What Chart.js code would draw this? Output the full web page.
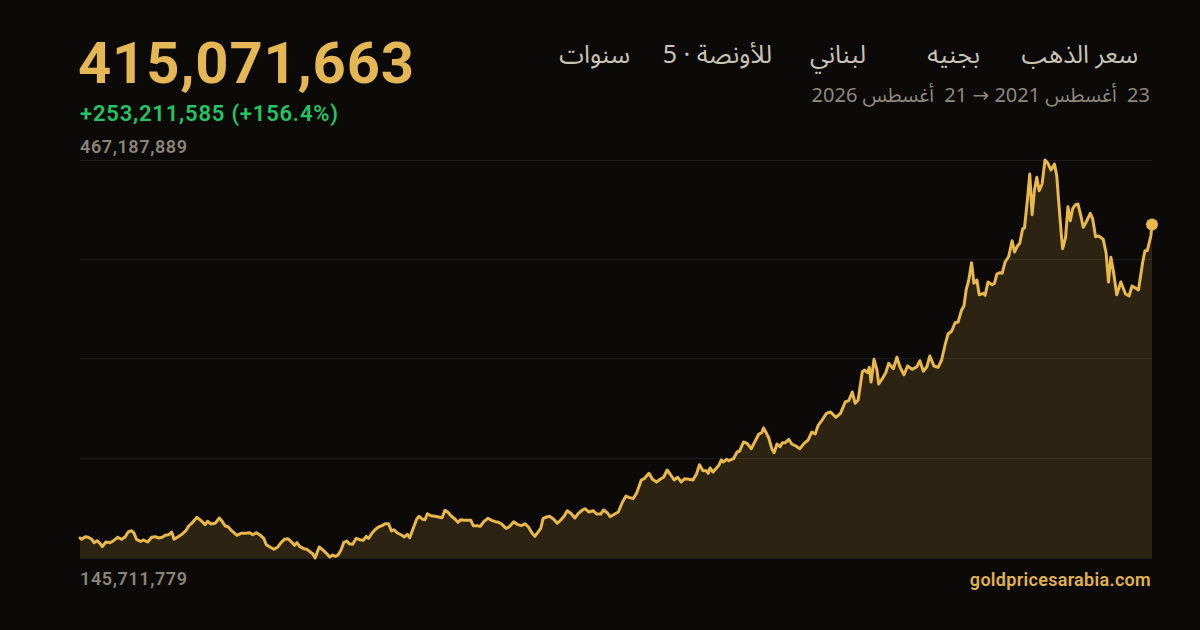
<!DOCTYPE html>
<html lang="ar">
<head>
<meta charset="utf-8">
<script src="https://cdn.jsdelivr.net/npm/chart.js@4"></script>
<style>
  html,body{margin:0;padding:0;background:#0b0a09;}
  body{width:1200px;height:630px;position:relative;overflow:hidden;font-family:"Roboto","Noto Sans",sans-serif;}
  .big{position:absolute;left:78px;top:28px;font-size:58px;font-weight:700;color:#e4b654;letter-spacing:0.8px;line-height:70px;}
  .chg{position:absolute;left:80px;top:100px;font-size:22px;font-weight:600;color:#25c463;line-height:28px;letter-spacing:0.8px;}
  .lbl{position:absolute;left:80px;font-size:18px;font-weight:600;color:#8a8477;line-height:20px;letter-spacing:0.6px;}
  .title{position:absolute;top:38px;font-size:25px;color:#c9c3b4;line-height:34px;direction:rtl;font-family:"Noto Sans Arabic","Noto Sans","DejaVu Sans",sans-serif;white-space:nowrap;}
  .date{position:absolute;right:50px;top:83px;font-size:20px;color:#8e887b;direction:rtl;line-height:26px;font-family:"Noto Sans Arabic","Noto Sans","DejaVu Sans",sans-serif;white-space:pre;}
  .site{position:absolute;right:49px;top:569px;font-size:18px;font-weight:600;color:#e0b24e;line-height:22px;letter-spacing:0.3px;}
  #wrap{position:absolute;left:70px;top:150px;width:1092px;height:418px;}
</style>
</head>
<body>
<div class="big" id="big"></div>
<div class="chg" id="chg"></div>
<div class="lbl" id="maxLbl" style="top:137px;"></div>
<div class="lbl" id="minLbl" style="top:569px;"></div>
<div class="title" style="right:62px;">سعر الذهب</div>
<div class="title" style="right:220px;">بجنيه</div>
<div class="title" style="right:334px;">لبناني</div>
<div class="title" style="right:428px;">للأونصة · 5</div>
<div class="title" style="right:570px;">سنوات</div>
<div class="date" id="date"></div>
<div class="site">goldpricesarabia.com</div>
<div id="wrap"><canvas id="c" width="1092" height="418"></canvas></div>
<script>
// Days since 23 Aug 2021 (start) — 5-year range ending 21 Aug 2026
const startLabel = "23  أغسطس 2021";
const endLabel = "21  أغسطس 2026";
const totalDays = 1824;
const days = [0,3,9,14,20,24,29,34,38,44,51,57,64,71,77,82,88,92,96,103,108,115,122,128,134,140,145,151,156,160,167,174,180,185,191,199,206,213,217,223,230,237,241,247,252,258,267,274,282,289,294,300,307,313,317,324,330,336,342,348,354,361,365,369,374,381,386,
391,396,400,407,414,420,425,430,434,439,444,449,454,458,464,470,476,482,487,491,497,502,508,514,519,525,530,534,540,547,552,557,561,567,573,577,582,587,591,597,604,610,616,621,626,632,638,643,648,653,659,665,669,675,681,687,694,700,707,712,718,725,730,738,744,751,757,763,769,774,779,784,788,794,799,
806,812,818,824,829,835,842,848,855,859,866,873,879,886,891,897,902,910,916,923,929,934,941,947,955,960,968,974,981,987,993,999,1004,1011,1017,1023,1029,1036,1043,1049,1054,1060,1066,1069,1072,1077,1083,1087,1091,1095,1100,1104,1112,1118,1122,1129,1135,1142,1148,1155,1160,1163,1168,1172,1177,1181,1186,1191,1195,1200,
1206,1211,1218,1225,1232,1239,1245,1251,1256,1262,1270,1277,1286,1294,1302,1308,1314,1319,1324,1331,1335,1340,1343,1346,1351,1356,1359,1365,1371,1376,1384,1390,1395,1402,1408,1416,1424,1429,1435,1441,1446,1453,1460,1466,1472,1477,1483,1489,1494,1500,1504,1508,1512,1517,1521,1526,1530,1537,1540,1545,1552,1556,1560,1565,
1569,1574,1580,1586,1590,1595,1599,1604,1607,1612,1616,1620,1624,1628,1632,1637,1642,1647,1652,1658,1662,1665,1670,1672,1677,1681,1685,1689,1694,1698,1703,1707,1712,1719,1723,1728,1733,1741,1746,1750,1754,1758,1764,1771,1775,1779,1785,1790,1796,1801,1808,1812,1816,1822,1824];
// Price in millions of Lebanese pounds per ounce
const prices = [161.86,160.81,162.91,162.43,160.81,158.07,159.68,157.58,154.84,158.63,158.07,159.68,162.43,160.81,162.91,166.71,167.76,165.66,160.81,159.20,160.25,158.63,162.43,162.91,161.86,162.43,164.04,164.53,166.71,160.81,162.91,165.09,167.76,171.56,174.22,178.58,175.84,172.61,175.35,173.17,173.74,178.02,175.84,171.56,170.99,167.76,164.04,165.66,165.66,166.14,164.53,166.14,164.04,161.30,156.45,154.35,152.74,154.35,158.07,160.81,161.30,158.07,155.97,158.07,154.84,153.22,152.74,
150.80,149.18,145.711779,154.59,151.93,149.18,146.52,148.13,147.08,148.13,151.93,158.39,159.44,157.26,156.78,161.62,160.49,160.01,163.24,161.62,165.90,168.57,170.75,171.80,173.41,173.41,167.52,168.57,165.90,164.29,162.67,164.85,162.11,169.70,177.21,179.39,177.21,176.64,181.49,179.88,179.39,178.83,178.26,184.24,182.62,179.39,177.21,174.54,176.64,176.16,176.16,176.16,171.80,171.80,171.31,175.03,177.78,176.16,175.03,174.54,172.93,169.70,170.75,175.03,172.93,171.80,173.41,170.75,165.90,163.24,166.47,169.70,177.78,178.83,179.39,
176.97,173.74,176.40,179.63,183.91,181.81,178.02,181.81,184.48,185.53,182.86,183.91,181.25,181.25,184.48,182.30,179.07,181.25,182.86,190.94,195.79,194.74,193.61,197.97,208.71,209.76,214.12,209.28,207.10,209.28,210.89,216.79,213.56,208.71,210.89,207.10,209.76,209.28,208.71,213.56,221.07,216.22,216.22,214.12,218.40,215.17,218.40,220.58,224.86,223.25,225.43,224.30,225.91,231.33,231.89,239.40,238.35,233.99,239.40,245.86,246.91,250.71,246.43,242.63,233.99,230.76,237.79,235.61,238.84,238.84,
241.58,237.79,236.17,233.99,238.35,241.02,247.48,245.86,252.89,256.61,262.58,263.63,259.35,262.58,271.71,272.76,279.79,270.66,273.33,295.94,297.56,295.38,299.74,287.87,306.20,297.56,286.25,290.53,295.38,302.97,298.61,307.82,300.22,293.76,300.79,298.12,300.22,305.07,296.51,300.22,308.87,300.79,299.74,305.63,317.99,326.63,328.82,335.76,336.33,346.02,349.25,362.74,369.69,384.22,367.59,370.25,358.38,359.51,357.89,368.64,366.45,367.59,375.10,376.15,
375.66,384.79,389.07,401.99,392.87,397.71,399.89,411.69,412.25,434.87,455.87,422.99,442.94,453.20,442.38,447.79,467.187889,464.51,459.10,463.94,454.25,434.87,405.22,395.53,404.74,429.46,418.15,427.84,431.07,431.64,421.94,412.82,417.10,424.12,419.76,405.22,405.79,403.12,391.82,368.64,388.59,378.33,358.38,368.64,363.79,358.94,357.33,365.40,363.79,362.17,384.22,393.92,393.92,405.79,415.071663];
const yMin = 145.711779, yMax = 467.187889;

const fmt = v => Math.round(v*1e6).toLocaleString('en-US');
const last = prices[prices.length-1];
const change = 253.211585; // as shown
document.getElementById('big').textContent = fmt(last);
document.getElementById('chg').textContent = '+' + fmt(change) + ' (+156.4%)';
document.getElementById('maxLbl').textContent = fmt(yMax);
document.getElementById('minLbl').textContent = fmt(yMin);
document.getElementById('date').textContent = startLabel + ' → ' + endLabel;

const pts = days.map((d,i)=>({x:d, y:prices[i]}));
new Chart(document.getElementById('c'), {
  type:'line',
  data:{datasets:[{
    data:pts,
    clip:false,
    borderColor:'#e8b84b',
    borderWidth:3,
    borderJoinStyle:'round',
    borderCapStyle:'round',
    backgroundColor:'rgba(232,184,75,0.15)',
    fill:'start',
    tension:0,
    pointRadius:c=>c.dataIndex===pts.length-1?6:0,
    pointBackgroundColor:'#e8b84b',
    pointBorderWidth:0,
    pointHoverRadius:0
  }]},
  options:{
    responsive:false, animation:false,
    layout:{padding:{left:10,right:10,top:10,bottom:10}},
    plugins:{legend:{display:false},tooltip:{enabled:false}},
    scales:{
      x:{type:'linear',display:false,min:0,max:totalDays},
      y:{min:yMin,max:yMax,ticks:{display:false,count:5},
         grid:{color:'rgba(255,255,255,0.075)',drawTicks:false,lineWidth:1},
         border:{display:false}}
    }
  }
});
</script>
</body>
</html>
